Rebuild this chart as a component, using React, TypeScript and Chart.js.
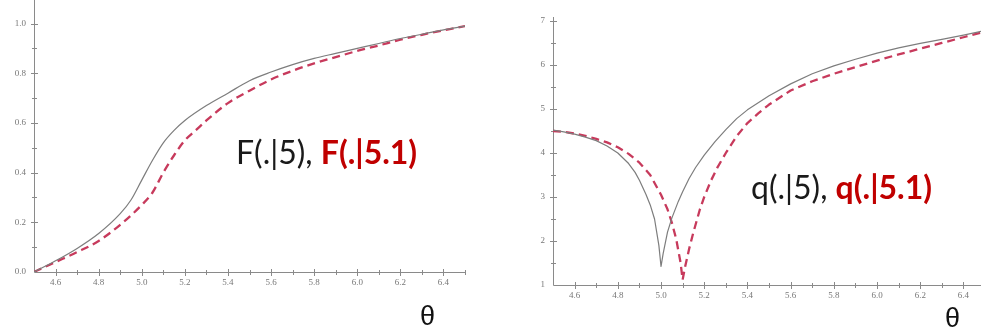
import React, { useEffect, useRef } from "react";
import { Chart, registerables } from "chart.js";

Chart.register(...registerables);

// ---------- Left panel: F(.|5) (solid) and F(.|5.1) (dashed) ----------
const thetaF5 = [4.5, 4.6, 4.7, 4.8, 4.9, 4.95, 5.0, 5.05, 5.1, 5.15, 5.2, 5.3, 5.4, 5.5, 5.6, 5.7, 5.8, 5.9, 6.0, 6.1, 6.2, 6.3, 6.4, 6.5];
const valF5 = [0, 0.045, 0.095, 0.155, 0.235, 0.29, 0.37, 0.45, 0.52, 0.57, 0.61, 0.67, 0.72, 0.77, 0.805, 0.835, 0.86, 0.88, 0.9, 0.92, 0.94, 0.957, 0.975, 0.99];
const thetaF51 = [4.5, 4.6, 4.7, 4.8, 4.9, 5.0, 5.05, 5.1, 5.15, 5.2, 5.25, 5.3, 5.4, 5.5, 5.6, 5.7, 5.8, 5.9, 6.0, 6.1, 6.2, 6.3, 6.4, 6.5];
const valF51 = [0, 0.04, 0.08, 0.125, 0.19, 0.27, 0.32, 0.4, 0.47, 0.53, 0.57, 0.61, 0.68, 0.73, 0.775, 0.81, 0.84, 0.865, 0.89, 0.912, 0.935, 0.955, 0.973, 0.99];

// ---------- Right panel: q(.|5) (solid) and q(.|5.1) (dashed) ----------
const thetaQ5 = [4.5, 4.55, 4.6, 4.65, 4.7, 4.75, 4.8, 4.85, 4.88, 4.9, 4.93, 4.95, 4.97, 4.99, 5.0, 5.01, 5.03, 5.05, 5.08, 5.1, 5.13, 5.16, 5.2, 5.25, 5.3, 5.35, 5.4, 5.5, 5.6, 5.7, 5.8, 5.9, 6.0, 6.1, 6.2, 6.3, 6.4, 6.5];
const valQ5 = [4.52, 4.48, 4.43, 4.36, 4.28, 4.16, 4.0, 3.76, 3.56, 3.38, 3.06, 2.82, 2.5, 1.9, 1.42, 1.72, 2.2, 2.52, 2.9, 3.12, 3.42, 3.67, 3.95, 4.26, 4.53, 4.78, 4.98, 5.3, 5.57, 5.8, 5.98, 6.13, 6.27, 6.39, 6.49, 6.58, 6.68, 6.78];
const thetaQ51 = [4.5, 4.55, 4.6, 4.65, 4.7, 4.75, 4.8, 4.85, 4.9, 4.95, 5.0, 5.03, 5.05, 5.07, 5.09, 5.1, 5.11, 5.13, 5.15, 5.18, 5.2, 5.23, 5.26, 5.3, 5.35, 5.4, 5.45, 5.5, 5.6, 5.7, 5.8, 5.9, 6.0, 6.1, 6.2, 6.3, 6.4, 6.5];
const valQ51 = [4.5, 4.48, 4.44, 4.39, 4.32, 4.24, 4.13, 3.98, 3.78, 3.5, 3.05, 2.72, 2.42, 2.05, 1.52, 1.12, 1.38, 1.82, 2.2, 2.72, 3.0, 3.36, 3.66, 4.0, 4.38, 4.68, 4.9, 5.1, 5.42, 5.63, 5.8, 5.95, 6.1, 6.24, 6.37, 6.5, 6.63, 6.76];

// ---------- Axis ticks ----------
const thetaMin = 4.5;
const thetaMaxLeft = 6.5;
const thetaMaxRight = 6.481;
const thetaStep = 0.1;
const fStep = 0.1;
const qStep = 0.5;

const SOLID_COLOR = "#7d7d7d";
const DASH_COLOR = "#c73a5c";
const TICK_COLOR = "#777777";
const AXIS_COLOR = "#8a8a8a";

const toPoints = (xs: number[], ys: number[]) => xs.map((x, i) => ({ x, y: ys[i] }));

const isMult = (v: number, step: number) => Math.abs(v / step - Math.round(v / step)) < 1e-6;

const crossAxesPlugin = {
  id: "crossAxes",
  beforeDatasetsDraw(chart: any) {
    const { ctx, chartArea: a, scales } = chart;
    const xs = scales.x;
    const ys = scales.y;
    const ax = Math.round(a.left) + 0.5;
    const ay = Math.round(a.bottom) + 0.5;
    ctx.save();
    ctx.strokeStyle = AXIS_COLOR;
    ctx.lineWidth = 1;
    ctx.beginPath();
    ctx.moveTo(ax, a.top);
    ctx.lineTo(ax, ay);
    ctx.lineTo(a.right, ay);
    for (const t of xs.ticks) {
      if (Math.abs(t.value - xs.min) < 1e-9) continue;
      const px = Math.round(xs.getPixelForValue(t.value)) + 0.5;
      const len = t.label !== "" ? 3.5 : 2.5;
      ctx.moveTo(px, ay - len);
      ctx.lineTo(px, ay + len);
    }
    for (const t of ys.ticks) {
      if (Math.abs(t.value - ys.min) < 1e-9) continue;
      const py = Math.round(ys.getPixelForValue(t.value)) + 0.5;
      const len = t.label !== "" ? 3.5 : 2.5;
      ctx.moveTo(ax - len, py);
      ctx.lineTo(ax + len, py);
    }
    ctx.stroke();
    ctx.restore();
  },
};

type PanelCfg = {
  solid: { x: number; y: number }[];
  dashed: { x: number; y: number }[];
  smooth: boolean;
  xMax: number;
  yMin: number;
  yMax: number;
  yStep: number;
  yLabel: (v: number) => string;
  yWidth: number;
  xHeight: number;
  padTop: number;
  padRight: number;
};

function makeChart(canvas: HTMLCanvasElement, p: PanelCfg) {
  const tickFont = { family: "'Liberation Serif', serif", size: 9 };
  const interp = p.smooth ? { cubicInterpolationMode: "monotone" } : { tension: 0 };
  return new Chart(canvas, {
    type: "scatter",
    data: {
      datasets: [
        {
          data: p.solid,
          showLine: true,
          borderColor: SOLID_COLOR,
          borderWidth: 1.2,
          pointRadius: 0,
          borderJoinStyle: "round",
          fill: false,
          ...interp,
        },
        {
          data: p.dashed,
          showLine: true,
          borderColor: DASH_COLOR,
          borderWidth: 2.3,
          borderDash: [8, 5],
          pointRadius: 0,
          borderJoinStyle: "round",
          fill: false,
          ...interp,
        },
      ],
    },
    options: {
      responsive: false,
      animation: false,
      events: [],
      layout: { padding: { top: p.padTop, right: p.padRight, left: 0, bottom: 0 } },
      plugins: { legend: { display: false }, tooltip: { enabled: false } },
      scales: {
        x: {
          type: "linear",
          min: thetaMin,
          max: p.xMax,
          grid: { display: false, drawTicks: false },
          border: { display: false },
          ticks: {
            stepSize: thetaStep,
            includeBounds: false,
            autoSkip: false,
            maxRotation: 0,
            padding: 5,
            color: TICK_COLOR,
            font: tickFont,
            callback: (v: any) => (Math.round(Number(v) * 10) % 2 === 0 ? Number(v).toFixed(1) : ""),
          },
          afterBuildTicks: (s: any) => {
            s.ticks = s.ticks.filter((t: any) => isMult(t.value, thetaStep));
          },
          afterFit: (s: any) => {
            s.height = p.xHeight;
            s.paddingLeft = 0;
            s.paddingRight = 0;
          },
        },
        y: {
          type: "linear",
          min: p.yMin,
          max: p.yMax,
          grid: { display: false, drawTicks: false },
          border: { display: false },
          ticks: {
            stepSize: p.yStep,
            includeBounds: false,
            autoSkip: false,
            padding: 8,
            color: TICK_COLOR,
            font: tickFont,
            callback: (v: any) => p.yLabel(Number(v)),
          },
          afterBuildTicks: (s: any) => {
            s.ticks = s.ticks.filter((t: any) => isMult(t.value, p.yStep));
          },
          afterFit: (s: any) => {
            s.width = p.yWidth;
            s.paddingTop = 0;
            s.paddingBottom = 0;
          },
        },
      },
    },
    plugins: [crossAxesPlugin],
  } as any);
}

const annStyle: React.CSSProperties = {
  position: "absolute",
  fontFamily: "Lato, 'Open Sans', sans-serif",
  fontSize: 32,
  lineHeight: "36px",
  whiteSpace: "nowrap",
  color: "#1a1a1a",
};
const redStyle: React.CSSProperties = { color: "#c00000", fontWeight: 700 };
const thetaStyle: React.CSSProperties = {
  position: "absolute",
  fontFamily: "'Liberation Sans', Arial, sans-serif",
  fontSize: 27,
  lineHeight: "30px",
  color: "#111",
};

export default function App() {
  const leftRef = useRef<HTMLCanvasElement>(null);
  const rightRef = useRef<HTMLCanvasElement>(null);

  useEffect(() => {
    const left = makeChart(leftRef.current!, {
      solid: toPoints(thetaF5, valF5),
      dashed: toPoints(thetaF51, valF51),
      smooth: true,
      xMax: thetaMaxLeft,
      yMin: 0,
      yMax: 1.095,
      yStep: fStep,
      yLabel: (v) => (Math.round(v * 10) % 2 === 0 ? v.toFixed(1) : ""),
      yWidth: 34,
      xHeight: 64,
      padTop: 0,
      padRight: 25,
    });
    const right = makeChart(rightRef.current!, {
      solid: toPoints(thetaQ5, valQ5),
      dashed: toPoints(thetaQ51, valQ51),
      smooth: false,
      xMax: thetaMaxRight,
      yMin: 1,
      yMax: 7.09,
      yStep: qStep,
      yLabel: (v) => (isMult(v, 1) ? String(Math.round(v)) : ""),
      yWidth: 63,
      xHeight: 51,
      padTop: 17,
      padRight: 0,
    });
    return () => {
      left.destroy();
      right.destroy();
    };
  }, []);

  return (
    <div style={{ position: "absolute", left: 0, top: 0, width: 981, height: 336, background: "#fff", overflow: "hidden" }}>
      <canvas ref={leftRef} width={490} height={336} style={{ position: "absolute", left: 0, top: 0, width: 490, height: 336 }} />
      <canvas ref={rightRef} width={491} height={336} style={{ position: "absolute", left: 490, top: 0, width: 491, height: 336 }} />
      <div style={{ ...annStyle, left: 236, top: 134 }}>
        F(.|5), <span style={redStyle}>F(.|5.1)</span>
      </div>
      <div style={{ ...annStyle, left: 751, top: 169 }}>
        q(.|5), <span style={redStyle}>q(.|5.1)</span>
      </div>
      <div style={{ ...thetaStyle, left: 420, top: 301 }}>θ</div>
      <div style={{ ...thetaStyle, left: 945, top: 303 }}>θ</div>
    </div>
  );
}
